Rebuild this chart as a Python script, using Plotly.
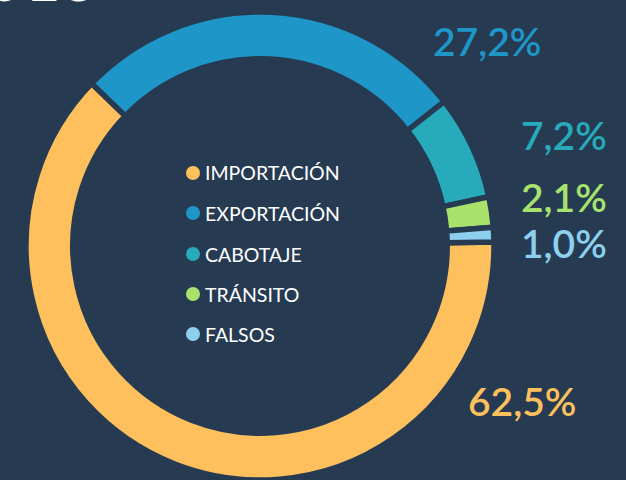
import plotly.graph_objects as go

categories = ["IMPORTACIÓN", "EXPORTACIÓN", "CABOTAJE", "TRÁNSITO", "FALSOS"]
values = [62.5, 27.2, 7.2, 2.1, 1.0]
pct_labels = ["62,5%", "27,2%", "7,2%", "2,1%", "1,0%"]
colors = ["#FDC05C", "#1E96C8", "#27AAB9", "#A8E26C", "#8DD0EE"]
year_text = "2015"

BG = "#263B52"
W, H = 626, 480

fig = go.Figure()
fig.add_trace(go.Pie(
    labels=categories,
    values=values,
    sort=False,
    direction="clockwise",
    rotation=89,
    hole=0.80,
    marker=dict(colors=colors, line=dict(color=BG, width=5.5)),
    textinfo="none",
    hoverinfo="label+percent",
    showlegend=False,
    domain=dict(x=[26 / W, 494 / W], y=[0, 468 / H]),
))

def px(x, y):
    return x / W, 1 - y / H

# legend drawn as circle shapes + text annotations
legend_y = [173, 213, 254, 294, 334]
for cat, col, ly in zip(categories, colors, legend_y):
    cx, cy = 193, ly
    xa, ya = px(cx - 7, cy + 7)
    xb, yb = px(cx + 7, cy - 7)
    fig.add_shape(type="circle", xref="paper", yref="paper",
                  x0=xa, y0=ya, x1=xb, y1=yb,
                  fillcolor=col, line=dict(width=0))
    x0, y0 = px(203, ly)
    fig.add_annotation(
        x=x0, y=y0, xref="paper", yref="paper", xanchor="left", yanchor="middle",
        text=cat, showarrow=False,
        font=dict(family="Lato", size=19.5, color="#FFFFFF"),
    )

# percentage labels
pct_pos = [(578, 401), (543, 41), (609, 135), (609, 197), (609, 243)]
for lab, col, (lx, ly) in zip(pct_labels, colors, pct_pos):
    x0, y0 = px(lx, ly)
    fig.add_annotation(
        x=x0, y=y0, xref="paper", yref="paper", xanchor="right", yanchor="middle",
        text=lab, showarrow=False,
        font=dict(family="Lato", size=39, color=col, weight=600),
    )

# cut-off year title at top-left
x0, y0 = px(102, -24)
fig.add_annotation(
    x=x0, y=y0, xref="paper", yref="paper", xanchor="right", yanchor="middle",
    text=year_text, showarrow=False,
    font=dict(family="Lato", size=66, color="#FFFFFF", weight=300),
)

fig.update_layout(
    width=W, height=H,
    margin=dict(l=0, r=0, t=0, b=0),
    paper_bgcolor=BG, plot_bgcolor=BG,
)
fig.write_html("out.html",
               config={"displayModeBar": False},
               post_script="document.body.style.margin='0';document.body.style.overflow='hidden';")
